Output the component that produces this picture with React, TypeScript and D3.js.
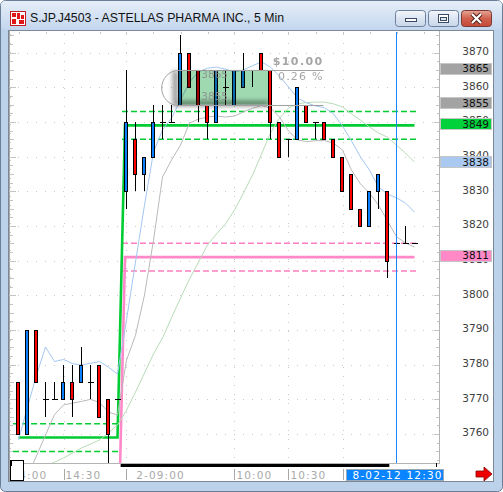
import React from 'react';
import * as d3 from 'd3';

// 5-minute bars: 14:05-15:00 of the prior session, then 9:00 onwards
const opens = [3775, 3760, 3790, 3770, 3770, 3770, 3775, 3775, 3775, 3780, 3770, 3770,
  3830, 3845, 3835, 3840, 3850, 3850, 3855, 3870, 3865, 3855, 3850, 3860, 3855, 3860, 3865,
  3870, 3865, 3850, 3845, 3845, 3855, 3850, 3850, 3845, 3840, 3835, 3825, 3820, 3830, 3830,
  3815, 3815, 3815];
const highs = [3775, 3790, 3790, 3775, 3775, 3780, 3780, 3785, 3780, 3780, 3770, 3770,
  3865, 3850, 3840, 3855, 3855, 3855, 3875, 3870, 3865, 3855, 3865, 3865, 3865, 3870, 3865,
  3870, 3865, 3850, 3845, 3860, 3855, 3850, 3850, 3845, 3840, 3835, 3825, 3830, 3835, 3830,
  3820, 3820, 3815];
const lows = [3760, 3760, 3775, 3765, 3770, 3770, 3765, 3775, 3770, 3765, 3750, 3770,
  3825, 3830, 3830, 3840, 3845, 3850, 3855, 3860, 3850, 3845, 3850, 3855, 3855, 3860, 3860,
  3865, 3845, 3840, 3840, 3845, 3850, 3845, 3845, 3840, 3830, 3825, 3820, 3820, 3825, 3805,
  3810, 3815, 3815];
const closes = [3760, 3790, 3775, 3770, 3770, 3775, 3770, 3780, 3775, 3765, 3760, 3770,
  3850, 3835, 3840, 3850, 3850, 3850, 3870, 3860, 3855, 3850, 3865, 3860, 3865, 3865, 3865,
  3865, 3850, 3840, 3845, 3860, 3850, 3850, 3845, 3840, 3830, 3825, 3820, 3830, 3835, 3810,
  3815, 3815, 3815];

// moving averages (fast from bar 0, mid from bar 1, slow from bar 3)
const maFast = [3758.3, 3767.8, 3777.0, 3785.1, 3780.9, 3781.5, 3780.3, 3779.9, 3780.4, 3780.9,
  3779.3, 3777.3, 3792.9, 3809.6, 3826.0, 3841.3, 3847.7, 3851.1, 3856.3, 3861.5, 3864.4,
  3865.5, 3865.8, 3865.2, 3864.4, 3865.0, 3866.2, 3867.3, 3865.8, 3863.2, 3860.1, 3856.9,
  3855.5, 3854.6, 3854.1, 3852.3, 3848.8, 3844.5, 3839.9, 3836.1, 3831.2, 3829.2, 3828.1,
  3826.6, 3824.0];
const maMidStart = 1;
const maMid = [3747.9, 3753.7, 3759.7, 3765.6, 3768.4, 3768.9, 3769.4, 3770.0, 3769.1, 3766.3,
  3765.5, 3781.3, 3788.5, 3800.1, 3815.9, 3834.1, 3839.0, 3843.3, 3849.7, 3850.8, 3851.4,
  3851.7, 3851.4, 3851.7, 3852.9, 3853.9, 3854.7, 3854.0, 3851.4, 3847.4, 3844.8, 3844.3,
  3844.6, 3844.6, 3843.9, 3841.9, 3836.1, 3832.1, 3829.5, 3826.0, 3821.4, 3816.9, 3815.1,
  3813.9];
const maSlowStart = 3;
const maSlow = [3750.8, 3751.9, 3753.1, 3754.5, 3756.0, 3757.1, 3758.3, 3760.3, 3762.6, 3766.9,
  3772.1, 3777.6, 3783.1, 3787.7, 3793.5, 3799.2, 3804.7, 3809.6, 3814.5, 3817.7, 3820.6,
  3824.6, 3829.5, 3834.7, 3840.7, 3846.8, 3851.1, 3854.0, 3855.2, 3855.6, 3855.7, 3855.7,
  3855.2, 3854.3, 3852.3, 3850.5, 3848.5, 3846.8, 3845.6, 3843.3, 3841.0, 3838.4];

// session levels: [previous session, current session]
const upperLevel = [3759, 3849];
const lowerLevel = [3719, 3811];
const levelBand = 4;

// price ruler
const rulerHigh = 3865;
const rulerLow = 3855;

const priceTicks = [3760, 3770, 3780, 3790, 3800, 3810, 3820, 3830, 3840, 3850, 3860, 3870];
const timeBars = [-1, 5, 12, 24, 30, 36];
const timeLabels = ['14:00', '14:30', '\u20072-09:00', '10:00', '10:30', ''];
const cursorBar = 42;
const cursorLabel = '8-02-12 12:30';

const W = 503;
const H = 492;
const PL = 10;
const PR = 439.5;
const PT = 32;
const PB = 464;
const FONT = "'DejaVu Sans', Verdana, sans-serif";

export default function App() {
  const n = closes.length;
  const x = d3.scaleLinear().domain([0, n - 1]).range([18.5, 414.5]);
  const y = d3.scaleLinear().domain([3751.36, 3875.92]).range([PB, PT]);
  const line = d3.line<[number, number]>().x((d) => x(d[0])).y((d) => y(d[1]));

  const fastPts = maFast.map((v, i) => [i, v] as [number, number]);
  const midPts = maMid.map((v, i) => [i + maMidStart, v] as [number, number]);
  const slowPts = maSlow.map((v, i) => [i + maSlowStart, v] as [number, number]);

  const levelPath = (lv: number[]) =>
    line([[0, lv[0]], [11, lv[0]], [11.83, lv[1]], [n - 1, lv[1]]]);

  const crisp = (v: number) => Math.round(v) + 0.5;

  // minor ticks every 2.5 on the price scale
  const minor = d3.range(3752.5, 3875.1, 2.5);

  const rx0 = x(17.76);
  const rx1 = x(27.76);
  const rEnd = x(33.9);
  const ry0 = y(rulerHigh);
  const ry1 = y(rulerLow);
  const diff = rulerHigh - rulerLow;
  const pct = (diff / rulerLow) * 100;

  const markers = [
    { v: rulerHigh, fill: '#a3a3a3' },
    { v: rulerLow, fill: '#a3a3a3' },
    { v: upperLevel[1], fill: '#00d23c' },
    { v: Math.round(maSlow[maSlow.length - 1]), fill: '#a9c9f0' },
    { v: lowerLevel[1], fill: '#ff88c6' },
  ];

  const bandSegs = [
    { lv: upperLevel[0], a: -0.6, b: 11.3, c: '#00cc33' },
    { lv: upperLevel[1], a: 11.5, b: 44.4, c: '#00cc33' },
    { lv: lowerLevel[0], a: -0.6, b: 11.3, c: '#ff7ec0' },
    { lv: lowerLevel[1], a: 11.5, b: 44.4, c: '#ff7ec0' },
  ];

  return (
    <svg width={W} height={H} style={{ position: 'absolute', left: 0, top: 0 }}
      xmlns="http://www.w3.org/2000/svg">
      <defs>
        <linearGradient id="titleGrad" x1="0" y1="0" x2="0" y2="1">
          <stop offset="0" stopColor="#e6eef8" />
          <stop offset="1" stopColor="#c3d6ee" />
        </linearGradient>
        <linearGradient id="btnGrad" x1="0" y1="0" x2="0" y2="1">
          <stop offset="0" stopColor="#f4f7fb" />
          <stop offset="0.5" stopColor="#dbe5f2" />
          <stop offset="1" stopColor="#c8d6e8" />
        </linearGradient>
        <linearGradient id="closeGrad" x1="0" y1="0" x2="0" y2="1">
          <stop offset="0" stopColor="#e8a597" />
          <stop offset="0.5" stopColor="#d0614d" />
          <stop offset="1" stopColor="#c4493a" />
        </linearGradient>
        <clipPath id="plotClip">
          <rect x={PL} y={PT} width={PR - PL} height={PB - PT} />
        </clipPath>
        <filter id="soft" x="-20%" y="-40%" width="140%" height="180%">
          <feGaussianBlur stdDeviation="2.2" />
        </filter>
      </defs>

      {/* window frame and title bar */}
      <rect x={0.5} y={0.5} width={W - 1} height={H - 1} rx={5} fill="#bcd2eb" stroke="#6a7d96" />
      <rect x={1} y={1} width={W - 2} height={29} rx={4} fill="url(#titleGrad)" />
      <g>
        <rect x={10.5} y={11.5} width={15} height={14} fill="#fff" stroke="#c02020" />
        <rect x={12} y={13} width={4} height={4} fill="#e01818" />
        <rect x={17} y={13} width={3} height={6} fill="#e01818" />
        <rect x={21} y={15} width={3} height={4} fill="#e01818" />
        <rect x={12} y={19} width={4} height={5} fill="#e01818" />
        <rect x={19} y={20} width={5} height={4} fill="#e01818" />
      </g>
      <text x={30} y={22} fontFamily="'Liberation Sans', Arial, sans-serif" fontSize={12.3} fill="#111">
        S.JP.J4503 - ASTELLAS PHARMA INC., 5 Min
      </text>
      <rect x={395.5} y={10.5} width={30} height={16} rx={3} fill="url(#btnGrad)" stroke="#6c7f9c" />
      <rect x={405.5} y={18.5} width={11} height={3} fill="#fff" stroke="#3a4a60" />
      <rect x={428.5} y={10.5} width={30} height={16} rx={3} fill="url(#btnGrad)" stroke="#6c7f9c" />
      <rect x={438.5} y={14.5} width={10} height={8} fill="#fff" stroke="#3a4a60" />
      <rect x={440.5} y={17.5} width={6} height={3} fill="#dbe5f2" stroke="#3a4a60" />
      <rect x={461.5} y={10.5} width={30} height={16} rx={3} fill="url(#closeGrad)" stroke="#7a3a34" />
      <path d="M472,14 L481,23 M481,14 L472,23" stroke="#4a1c18" strokeWidth={4} />
      <path d="M472,14 L481,23 M481,14 L472,23" stroke="#fff" strokeWidth={2.2} />

      {/* client area */}
      <rect x={8.5} y={30.5} width={485} height={451} fill="#fff" stroke="#7d8896" />
      <line x1={9.5} y1={31} x2={9.5} y2={481} stroke="#a8a8a8" />

      {/* grid */}
      <g shapeRendering="crispEdges" stroke="#c9c9c9" strokeDasharray="1 8">
        {priceTicks.map((v) => (
          <line key={'h' + v} x1={9} x2={PR} y1={crisp(y(v))} y2={crisp(y(v))} />
        ))}
        {timeBars.map((b) => (
          <line key={'v' + b} x1={crisp(x(b))} x2={crisp(x(b))} y1={PT + 2} y2={PB} />
        ))}
      </g>

      {/* edge ticks */}
      <g shapeRendering="crispEdges" stroke="#c4c4c4">
        {minor.map((v) => {
          const major = Math.abs(v % 10) < 0.01;
          const mid = Math.abs(v % 5) < 0.01;
          const len = major ? 6 : mid ? 4 : 3;
          const yy = crisp(y(v));
          return (
            <g key={'t' + v}>
              <line x1={10} x2={10 + len} y1={yy} y2={yy} />
              <line x1={PR - len} x2={PR} y1={yy} y2={yy} />
            </g>
          );
        })}
        {d3.range(0, n + 1, 3).map((b) => (
          <line key={'tt' + b} x1={crisp(x(b))} x2={crisp(x(b))} y1={PT} y2={PT + 2} />
        ))}
      </g>

      <g clipPath="url(#plotClip)">
        {/* session level bands */}
        <g strokeDasharray="6 3" strokeWidth={1.5}>
          {bandSegs.map((s) =>
            [-levelBand, levelBand].map((o) => (
              <line key={`b${s.lv}${o}`} x1={x(s.a)} x2={x(s.b)} y1={y(s.lv + o)} y2={y(s.lv + o)} stroke={s.c} />
            ))
          )}
        </g>
        <path d={levelPath(lowerLevel) || ''} fill="none" stroke="#ff88c8" strokeWidth={2.6} />
        <path d={levelPath(upperLevel) || ''} fill="none" stroke="#00cc33" strokeWidth={2.6} />

        {/* moving averages */}
        <path d={line(slowPts) || ''} fill="none" stroke="#b7dbb7" strokeWidth={1} />
        <path d={line(midPts) || ''} fill="none" stroke="#b9b9b9" strokeWidth={1} />
        <path d={line(fastPts) || ''} fill="none" stroke="#a3c6f0" strokeWidth={1} />

        {/* candles */}
        <g shapeRendering="crispEdges">
          {closes.map((c, i) => {
            const o = opens[i];
            const cx = crisp(x(i) - 0.5);
            const up = c > o;
            const top = y(Math.max(o, c));
            const bot = y(Math.min(o, c));
            return (
              <g key={'c' + i}>
                <line x1={cx} x2={cx} y1={y(highs[i])} y2={y(lows[i])} stroke="#000" />
                {o === c ? (
                  <line x1={cx - 3} x2={cx + 3} y1={crisp(top)} y2={crisp(top)} stroke="#000" />
                ) : (
                  <rect x={cx - 2} y={Math.round(top) + 0.5} width={3} height={Math.round(bot) - Math.round(top)}
                    fill={up ? '#0a80ff' : '#ff0000'} stroke="#000" />
                )}
              </g>
            );
          })}
        </g>

        {/* price ruler */}
        <path d={`M${rx0 - 3},${ry0 + 1} L${rx0 - 3},${ry1 - 1} L${rx1},${ry1 - 1}`} fill="none"
          stroke="#2e2e2e" strokeWidth={6} opacity={0.45} filter="url(#soft)" />
        <rect x={rx0} y={ry0} width={rx1 - rx0} height={ry1 - ry0} fill="#9fd9b0"
          style={{ mixBlendMode: 'multiply' }} />
        <path d={`M${rEnd},${crisp(ry0)} H${rx0} A16.5,${(ry1 - ry0) / 2} 0 0 0 ${rx0},${crisp(ry1)} H${rEnd}`}
          fill="none" stroke="#a2a2a2" strokeWidth={1} />
        <g fontFamily={FONT} fontSize={10.5} fill="#8e8e8e" opacity={0.9}>
          <text x={rx0 + 23} y={ry0 + 8.5}>{rulerHigh}</text>
          <text x={rx0 + 23} y={ry1 - 5}>{rulerLow}</text>
        </g>
        <text x={rEnd} y={65} textAnchor="end" fontFamily={FONT} fontSize={11} fontWeight="bold"
          fill="#a5a5a5" letterSpacing={1.4}>{`$${diff.toFixed(2)}`}</text>
        <text x={rEnd} y={80} textAnchor="end" fontFamily={FONT} fontSize={11}
          fill="#a5a5a5" letterSpacing={1.2}>{`${pct.toFixed(2)} %`}</text>
      </g>

      {/* cursor */}
      <line x1={crisp(x(cursorBar) - 0.5)} x2={crisp(x(cursorBar) - 0.5)} y1={PT} y2={PB}
        stroke="#1a86f8" shapeRendering="crispEdges" />

      {/* plot borders */}
      <line x1={PR} x2={PR} y1={PT - 1} y2={PB} stroke="#b4b4b4" shapeRendering="crispEdges" />
      <line x1={10} x2={PR} y1={PB - 0.5} y2={PB - 0.5} stroke="#b4b4b4" shapeRendering="crispEdges" />
      <rect x={x(11.35)} y={PB} width={x(41.2) - x(11.35)} height={3} fill="#000" />
      <line x1={436.5} x2={436.5} y1={PB - 1} y2={PB + 3} stroke="#000" shapeRendering="crispEdges" />

      {/* price axis */}
      <g fontFamily={FONT} fontSize={10.5} fill="#3e3e3e" textAnchor="end">
        {priceTicks.map((v) => (
          <text key={'p' + v} x={489} y={y(v) + 2.4}>{v}</text>
        ))}
      </g>
      <g fontFamily={FONT} fontSize={10.5} textAnchor="end">
        {markers.map((m) => {
          const cy = y(m.v) - 1.8;
          return (
            <g key={'m' + m.v}>
              <rect x={440.5} y={Math.round(cy - 5.5) + 0.5} width={51} height={11} fill={m.fill}
                stroke="#c6c6c6" shapeRendering="crispEdges" />
              <text x={489} y={cy + 4} fill="#101010">{m.v}</text>
            </g>
          );
        })}
      </g>

      {/* time axis */}
      <g fontFamily={FONT} fontSize={10.5} fill="#a9a9a9" letterSpacing={1.1}>
        {timeBars.map((b, k) => (
          <g key={'tl' + b}>
            <line x1={crisp(x(b))} x2={crisp(x(b))} y1={469} y2={480} stroke="#a8a8a8" shapeRendering="crispEdges" />
            {timeLabels[k] ? (
              <text x={x(b) + 2} y={478.5} style={{ whiteSpace: 'pre' }}>{timeLabels[k]}</text>
            ) : null}
          </g>
        ))}
      </g>
      <rect x={346.5} y={469.5} width={97} height={11} fill="#0a84ff" stroke="#9ab" shapeRendering="crispEdges" />
      <text x={352.5} y={478.5} fontFamily={FONT} fontSize={10.5} fill="#fff"
        letterSpacing={1.2}>{cursorLabel}</text>

      {/* scroll thumb */}
      <rect x={10.5} y={460.5} width={13} height={20} fill="#fff" stroke="#000" shapeRendering="crispEdges" />
      <rect x={10} y={460} width={2} height={6} fill="#000" />

      {/* go-to-latest arrow */}
      <path d="M476,471 H484 V467 L492,474 L484,481 V477 H476 Z" fill="#ee0000" stroke="#8a0000" strokeWidth={0.8} />
    </svg>
  );
}
